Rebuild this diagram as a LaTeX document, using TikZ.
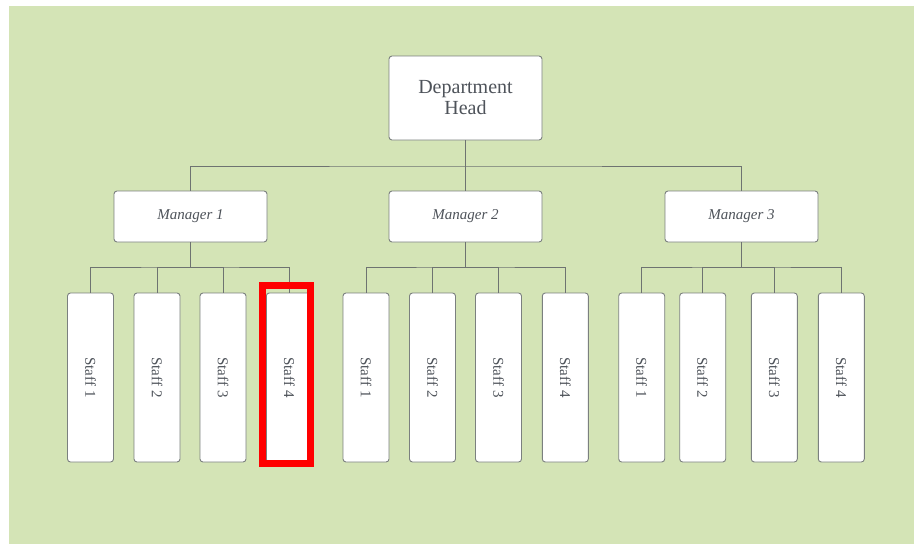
\documentclass[tikz,border=0pt]{standalone}
\usepackage{fontspec}
\setmainfont{Liberation Serif}
\definecolor{bggreen}{HTML}{D4E4B6}
\definecolor{boxline}{HTML}{7B807F}
\definecolor{linkline}{HTML}{6E7371}
\definecolor{inktext}{HTML}{4E535A}

\tikzset{
  orgbox/.style   = {shape=rectangle, rounded corners=3pt, draw=boxline,
                     line width=0.9pt, fill=white, align=center,
                     inner sep=0pt, text=inktext},
  head/.style     = {orgbox, minimum width=153pt, minimum height=84pt,
                     font=\fontsize{20}{21}\selectfont},
  manager/.style  = {orgbox, minimum width=153pt, minimum height=51pt,
                     font=\fontsize{15}{17}\selectfont\itshape},
  staff/.style    = {orgbox, minimum width=46pt, minimum height=169pt,
                     font=\fontsize{15}{17}\selectfont},
  staffname/.style= {rotate=-90, text=inktext,
                     font=\fontsize{15}{17}\selectfont},
  link/.style     = {draw=linkline, line width=1pt},
  highlight/.style= {draw=red, line width=7pt}
}

\begin{document}
\begin{tikzpicture}[x=1pt,y=-1pt]
 \useasboundingbox (0,0) rectangle (914,544);
 \fill [bggreen] (9,6) rectangle (914,544);

 % top level
 \node [head] (head) at (465.5,98) {Department\\Head};

 % managers
 \node [manager] (m1) at (190.5,216.5) {Manager 1};
 \node [manager] (m2) at (465.5,216.5) {Manager 2};
 \node [manager] (m3) at (741.5,216.5) {Manager 3};

 % staff of manager 1
 \node [staff] (s11) at (90.5,377.5) {};
 \node [staff] (s12) at (157,377.5) {};
 \node [staff] (s13) at (223,377.5) {};
 \node [staff] (s14) at (289.3,377.5) {};
 % staff of manager 2
 \node [staff] (s21) at (366,377.5) {};
 \node [staff] (s22) at (432.5,377.5) {};
 \node [staff] (s23) at (498.5,377.5) {};
 \node [staff] (s24) at (565.3,377.5) {};
 % staff of manager 3
 \node [staff] (s31) at (641.7,377.5) {};
 \node [staff] (s32) at (702.7,377.5) {};
 \node [staff] (s33) at (774.3,377.5) {};
 \node [staff] (s34) at (841.3,377.5) {};

 \node [staffname] at (s11) {Staff 1};
 \node [staffname] at (s12) {Staff 2};
 \node [staffname] at (s13) {Staff 3};
 \node [staffname] at (s14) {Staff 4};
 \node [staffname] at (s21) {Staff 1};
 \node [staffname] at (s22) {Staff 2};
 \node [staffname] at (s23) {Staff 3};
 \node [staffname] at (s24) {Staff 4};
 \node [staffname] at (s31) {Staff 1};
 \node [staffname] at (s32) {Staff 2};
 \node [staffname] at (s33) {Staff 3};
 \node [staffname] at (s34) {Staff 4};

 % bus coordinates
 \coordinate (hbus) at (465.5,166);
 \coordinate (b1) at (190.5,267);
 \coordinate (b2) at (465.5,267);
 \coordinate (b3) at (741.5,267);

 % links head -> managers
 \draw [link] (head.south) -- (hbus);
 \draw [link] (m1.north) |- (hbus) -| (m3.north);
 \draw [link] (hbus) -- (m2.north);

 % links managers -> staff
 \draw [link] (m1.south) -- (b1);
 \draw [link] (s11.north) |- (b1) -| (s14.north);
 \draw [link] (s12.north) |- (b1);
 \draw [link] (s13.north) |- (b1);

 \draw [link] (m2.south) -- (b2);
 \draw [link] (s21.north) |- (b2) -| (s24.north);
 \draw [link] (s22.north) |- (b2);
 \draw [link] (s23.north) |- (b2);

 \draw [link] (m3.south) -- (b3);
 \draw [link] (s31.north) |- (b3) -| (s34.north);
 \draw [link] (s32.north) |- (b3);
 \draw [link] (s33.north) |- (b3);

 % red mark round staff 4
 \draw [highlight] (262.5,285) rectangle (310.5,463);
\end{tikzpicture}
\end{document}
